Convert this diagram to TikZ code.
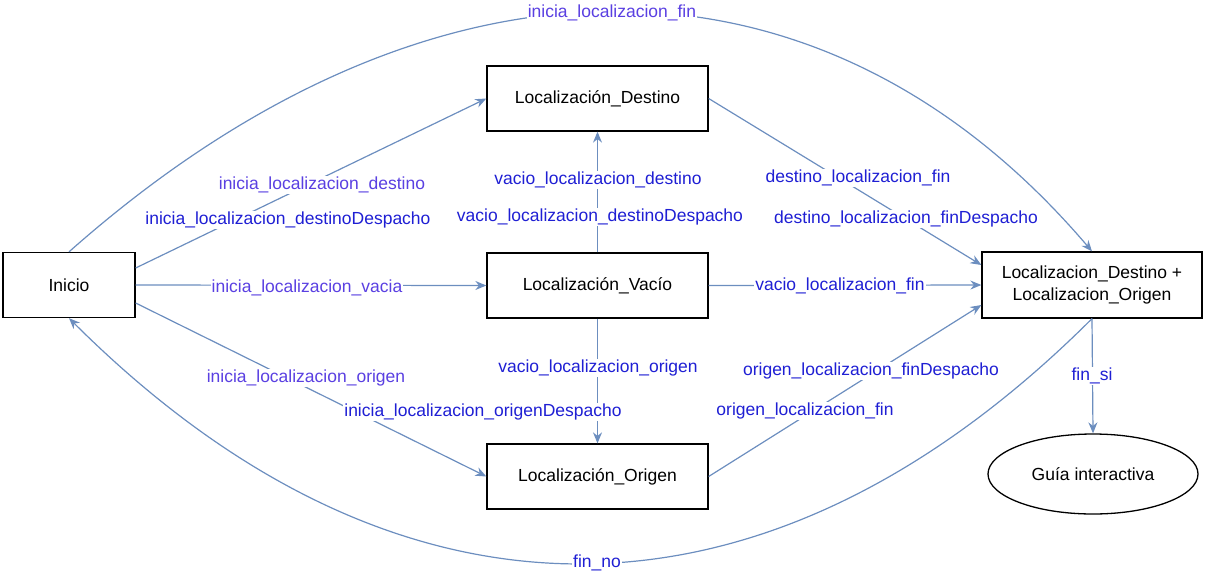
\documentclass[tikz,border=0pt]{standalone}
\usepackage{fontspec}
\setmainfont{Liberation Sans}
\usetikzlibrary{arrows.meta,shapes.geometric}
\definecolor{edgec}{HTML}{6C8EBF}
\definecolor{lblpurple}{HTML}{5A40E2}
\definecolor{lblblue}{HTML}{1F1FD4}
\begin{document}
\begin{tikzpicture}[x=1pt,y=-1pt,
  every node/.style={font=\fontsize{17.5}{22}\selectfont},
  box/.style={draw=black,line width=1.3pt,fill=white,minimum height=65pt,inner sep=0pt,align=center},
  conn/.style={draw=edgec,line width=1.2pt,-{Stealth[length=11pt,width=9pt]}},
  lp/.style={fill=white,text=lblpurple,inner sep=1pt},
  lb/.style={fill=white,text=lblblue,inner sep=1pt}]
\useasboundingbox (0,0) rectangle (1205,582);
% nodes
\node[box,minimum width=132pt] (inicio) at (69,285) {Inicio};
\node[box,minimum width=221pt] (dest) at (597.5,98.5) {Localización\_Destino};
\node[box,minimum width=221pt] (vacio) at (597.5,285.5) {Localización\_Vacío};
\node[box,minimum width=221pt] (orig) at (597.5,476.5) {Localización\_Origen};
\node[box,minimum width=220pt,minimum height=66pt] (final) at (1092,285) {Localizacion\_Destino +\\Localizacion\_Origen};
\node[draw=black,line width=1.3pt,ellipse,minimum width=210pt,minimum height=80pt,inner sep=0pt] (guia) at (1093,474) {Guía interactiva};
% connectors
\draw[conn] ([yshift=17pt]inicio.east) -- (dest.west);
\draw[conn] (inicio.east) -- (vacio.west);
\draw[conn] ([yshift=-18pt]inicio.east) -- (orig.west);
\draw[conn] (inicio.north) .. controls (430,-68) and (820,-68) .. (final.north);
\draw[conn] (final.south) .. controls (765,645) and (397,645) .. (inicio.south);
\draw[conn] (dest.east) -- ([yshift=20pt]final.west);
\draw[conn] (vacio.east) -- (final.west);
\draw[conn] (orig.east) -- ([yshift=-20pt]final.west);
\draw[conn] (vacio.north) -- (dest.south);
\draw[conn] (vacio.south) -- (orig.north);
\draw[conn] (final.south) -- (guia.north);
% labels
\node[lp] (l1) at (612,13) {inicia\_localizacion\_fin};
\node[lp] (l2) at (322,185) {inicia\_localizacion\_destino};
\node[lb] (l3) at (288,220) {inicia\_localizacion\_destinoDespacho};
\node[lp] (l4) at (307,288) {inicia\_localizacion\_vacia};
\node[lp] (l5) at (306,378) {inicia\_localizacion\_origen};
\node[lb] (l6) at (483,412) {inicia\_localizacion\_origenDespacho};
\node[lb] (l7) at (598,180) {vacio\_localizacion\_destino};
\node[lb] (l8) at (600,217) {vacio\_localizacion\_destinoDespacho};
\node[lb] (l9) at (858,178) {destino\_localizacion\_fin};
\node[lb] (l10) at (906,219) {destino\_localizacion\_finDespacho};
\node[lb] (l11) at (840,286) {vacio\_localizacion\_fin};
\node[lb] (l12) at (598,368) {vacio\_localizacion\_origen};
\node[lb] (l13) at (871,371) {origen\_localizacion\_finDespacho};
\node[lb] (l14) at (805,411) {origen\_localizacion\_fin};
\node[lb] (l15) at (1092,376) {fin\_si};
\node[lb] (l16) at (597,563) {fin\_no};
\end{tikzpicture}
\end{document}
